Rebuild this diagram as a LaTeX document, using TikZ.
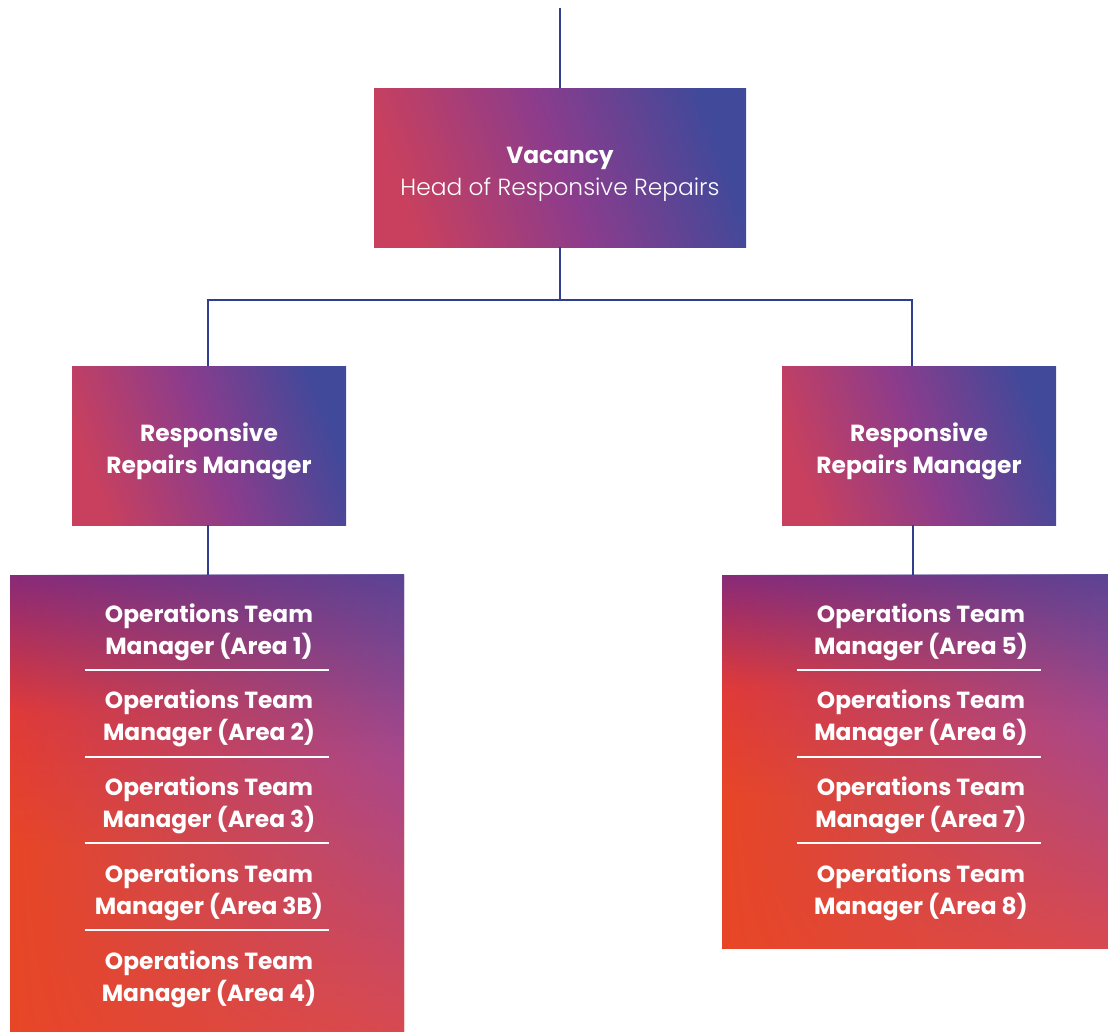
\documentclass[tikz,border=0pt]{standalone}
\usepackage{fontspec}
\setmainfont{Poppins}
\newfontfamily\lightfont{Poppins Light}
\usetikzlibrary{calc,fadings}

\definecolor{linkblue}{HTML}{2F3E8E}
\definecolor{gpink}{HTML}{C8405E}
\definecolor{gmag}{HTML}{8C3C8C}
\definecolor{gblue}{HTML}{41499A}
\definecolor{opurple}{HTML}{8A2A78}
\definecolor{ored}{HTML}{E03A38}
\definecolor{oorange}{HTML}{E84626}
\definecolor{rblue}{HTML}{5C4494}
\definecolor{rpink}{HTML}{A8488C}
\definecolor{rred}{HTML}{D84A52}

\pgfdeclareverticalshading{opsleft}{100bp}{color(0bp)=(oorange); color(25bp)=(oorange); color(45bp)=(oorange); color(60bp)=(ored); color(75bp)=(opurple); color(100bp)=(opurple)}
\pgfdeclareverticalshading{opsright}{100bp}{color(0bp)=(rred); color(25bp)=(rred); color(55bp)=(rpink); color(75bp)=(rblue); color(100bp)=(rblue)}
\tikzfading[name=fade in right, left color=transparent!100, right color=transparent!0]

\tikzset{
  link/.style={draw=linkblue, line width=1.1pt},
  headbox/.style={shade, top color=gblue, bottom color=gpink, middle color=gmag, shading angle=-70, inner sep=0pt},
  mgrbox/.style={headbox, minimum width=205.5pt, minimum height=119.25pt},
  boxtext/.style={text=white, align=center, font=\fontsize{17.5}{24}\selectfont},
  opsbox/.style={shade, shading=opsleft, inner sep=0pt},
  opsitem/.style={boxtext, font=\bfseries\fontsize{17.5}{24}\selectfont},
  rowline/.style={draw=white, line width=1.5pt},
}

\begin{document}
\begin{tikzpicture}[x=0.75pt, y=-0.75pt]
\useasboundingbox (0,0) rectangle (1108,1032);

\coordinate (top) at (560,8);
\coordinate (busL) at (208,300);
\coordinate (busR) at (912,300);

\node[headbox, minimum width=279pt, minimum height=119.25pt] (head) at (560,167.5) {};
\node[boxtext] (headtxt) at ($(head)+(0,7)$)
  {\textbf{Vacancy}\\ {\lightfont Head of Responsive Repairs}};

\node[mgrbox] (mgrL) at (209,445.5) {};
\node[mgrbox] (mgrR) at (919,445.5) {};
\node[opsitem] (mgrLtxt) at ($(mgrL)+(0,5.5)$) {Responsive\\ Repairs Manager};
\node[opsitem] (mgrRtxt) at ($(mgrR)+(0,5.5)$) {Responsive\\ Repairs Manager};

\node[opsbox, minimum width=295.5pt, minimum height=342.75pt] (opsL) at (207,803.5) {};
\node[opsbox, minimum width=289.5pt, minimum height=279.75pt] (opsR) at (915,761.5) {};
\shade[shading=opsright, path fading=fade in right] (opsL.north west) rectangle (opsL.south east);
\shade[shading=opsright, path fading=fade in right] (opsR.north west) rectangle (opsR.south east);

\foreach \a [count=\i] in {1,2,3,3B,4}
  \node[opsitem] (itemL\i) at (209,{632+86.75*(\i-1)}) {Operations Team\\ Manager (Area \a)};
\foreach \a [count=\i] in {5,6,7,8}
  \node[opsitem] (itemR\i) at (921,{632+86.75*(\i-1)}) {Operations Team\\ Manager (Area \a)};

\foreach \i in {1,...,4}
  \draw[rowline] (85,{670+86.67*(\i-1)}) -- ++(244,0);
\foreach \i in {1,...,3}
  \draw[rowline] (797,{670+86.67*(\i-1)}) -- ++(244,0);

\draw[link] (top) -- (head.north);
\draw[link] (head.south) |- (busL) -- (busL |- mgrL.north);
\draw[link] (head.south) |- (busR) -- (busR |- mgrR.north);
\draw[link] (mgrL.south -| busL) -- (opsL.north -| busL);
\draw[link] ($(mgrR.south -| busR)+(1,0)$) -- ($(opsR.north -| busR)+(1,0)$);
\end{tikzpicture}
\end{document}
